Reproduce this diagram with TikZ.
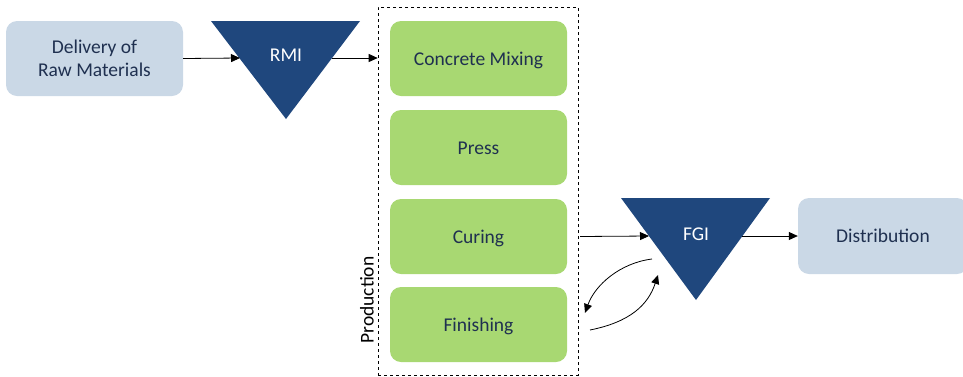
\documentclass[tikz,border=0pt]{standalone}
\usepackage{fontspec}
\setmainfont{Carlito}
\usetikzlibrary{arrows.meta}
\definecolor{boxblue}{HTML}{CAD8E6}
\definecolor{boxgreen}{HTML}{A8D872}
\definecolor{invnavy}{HTML}{1F477D}
\definecolor{textnavy}{HTML}{1F3050}
\tikzset{
  stage/.style={draw=none, rounded corners=11pt, inner sep=0pt, align=center,
    text=textnavy, font=\fontsize{19.5}{23}\selectfont},
  oneline/.style={text height=13pt, text depth=0pt},
  endbox/.style={stage, fill=boxblue},
  procbox/.style={stage, oneline, fill=boxgreen, minimum width=177pt, minimum height=75pt},
  inventory/.style={fill=invnavy, draw=none},
  invlabel/.style={text=white, font=\fontsize{19.5}{23}\selectfont},
  flow/.style={-{Triangle[length=9pt,width=8pt]}, line width=0.8pt},
}
\begin{document}
\begin{tikzpicture}[x=1pt, y=-1pt]
\useasboundingbox (0,0) rectangle (963,376);

% process boxes
\node[endbox, minimum width=177pt, minimum height=75pt] (delivery) at (94.5,58.5) {Delivery of\\Raw Materials};
\node[procbox] (mixing) at (478.5,58.5) {Concrete Mixing};
\node[procbox] (press) at (478.5,147.5) {Press};
\node[procbox] (curing) at (478.5,236.5) {Curing};
\node[procbox] (finishing) at (478.5,324.5) {Finishing};
\node[endbox, oneline, minimum width=170pt, minimum height=76pt] (distribution) at (883,236) {Distribution};

% production frame
\node[draw, dashed, line width=0.6pt, minimum width=200pt, minimum height=368pt, inner sep=0pt] (production) at (478,191) {};
\node[rotate=90, font=\fontsize{19.5}{23}\selectfont] (prodlabel) at (367,300) {Production};

% inventory triangles
\coordinate (rmiA) at (211,21);
\coordinate (rmiB) at (360,21);
\coordinate (rmiC) at (286,119);
\fill[inventory] (rmiA) -- (rmiB) -- (rmiC) -- cycle;
\node[invlabel] (rmi) at (286,55) {RMI};
\coordinate (rmiIn) at (240,58);
\coordinate (rmiOut) at (332,58);

\coordinate (fgiA) at (621,198);
\coordinate (fgiB) at (770,198);
\coordinate (fgiC) at (696,300);
\fill[inventory] (fgiA) -- (fgiB) -- (fgiC) -- cycle;
\node[invlabel] (fgi) at (696,234) {FGI};
\coordinate (fgiIn) at (649,236);
\coordinate (fgiOut) at (742,236);

% flows
\draw[flow] (delivery.east) -- (rmiIn);
\draw[flow] (rmiOut) -- (production.west |- rmiOut);
\draw[flow] (curing.east -| 580,0) -- (fgiIn);
\draw[flow] (fgiOut) -- (distribution.west);

% rework loop
\coordinate (loopA) at (652,259);
\coordinate (loopB) at (585,313);
\coordinate (loopC) at (590,330);
\coordinate (loopD) at (658,275);
\draw[flow] (loopA) .. controls (620,263) and (595,285) .. (loopB);
\draw[flow] (loopC) .. controls (630,322) and (648,305) .. (loopD);
\end{tikzpicture}
\end{document}
